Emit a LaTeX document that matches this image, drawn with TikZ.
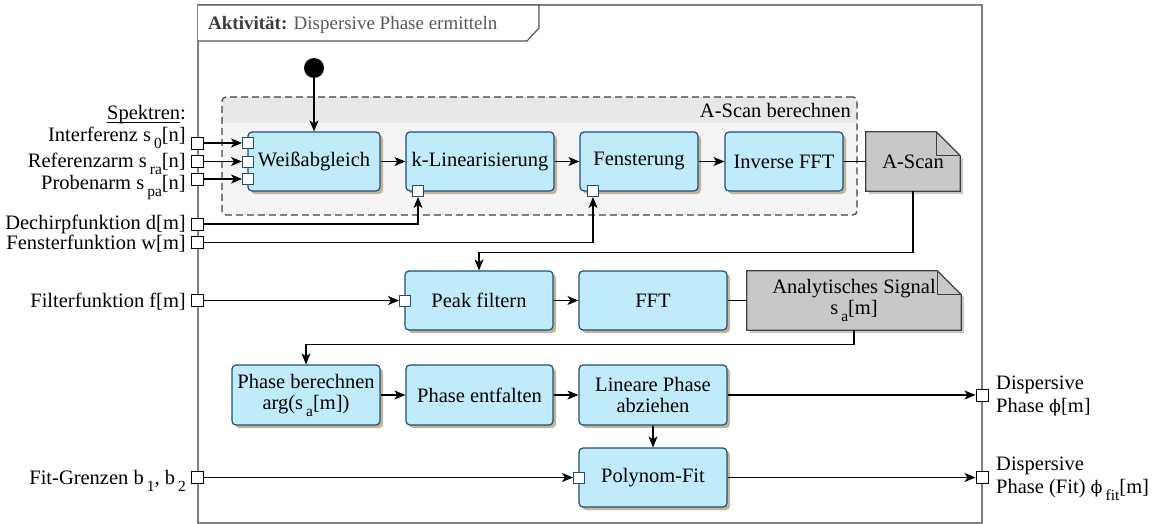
\documentclass[tikz,border=0pt]{standalone}
\usepackage{fontspec}
\setmainfont{Liberation Serif}
\newfontfamily\phifont{DejaVu Serif}
\usetikzlibrary{arrows.meta,shadows,calc}
\definecolor{boxfill}{HTML}{BFEBFB}
\definecolor{boxline}{HTML}{1F4E79}
\definecolor{boxshade}{HTML}{C4B496}
\definecolor{grouphead}{HTML}{E8E8E8}
\definecolor{groupbody}{HTML}{F4F4F4}
\definecolor{docfill}{HTML}{C8C8C8}
\definecolor{docline}{HTML}{404040}
\definecolor{framegray}{HTML}{808080}
\definecolor{titledark}{HTML}{3C3C3C}
\definecolor{titlegray}{HTML}{595959}
\newcommand\txtsize{\fontsize{20.5}{23}\selectfont}
\newcommand\lowidx[1]{\hspace{3pt}\raisebox{-7pt}{\fontsize{15.5}{15.5}\selectfont #1}}
\newcommand\phisym{{\phifont\fontsize{17.5}{17.5}\selectfont ϕ}}
\newcommand\thickul[1]{\setbox0\hbox{#1}\rlap{\rule[-3pt]{\wd0}{1pt}}\box0}
\pgfdeclarelayer{back}
\pgfdeclarelayer{mid}
\pgfsetlayers{back,mid,main}
\tikzset{
  every node/.style={font=\txtsize, inner sep=0pt},
  action/.style={draw=boxline, fill=boxfill, line width=1.2pt, rounded corners=4pt,
    align=center, minimum height=59pt,
    drop shadow={shadow xshift=3pt, shadow yshift=-3pt, fill=boxshade, opacity=1}},
  docnode/.style={minimum height=59pt, align=center},
  docshape/.style={draw=docline, fill=docfill, line width=1.2pt,
    drop shadow={shadow xshift=3pt, shadow yshift=-3pt, fill=black, opacity=0.22}},
  groupbox/.style={draw=docline, fill=groupbody, line width=1.2pt, rounded corners=4pt,
    dash pattern=on 7pt off 4pt,
    path picture={\fill[grouphead] (path picture bounding box.north west)
      rectangle ([yshift=-26pt]path picture bounding box.north east);}},
  inport/.style={draw=boxline, fill=white, line width=1pt, minimum size=11pt},
  portsq/.style={draw=black, fill=white, line width=1pt, minimum size=12pt},
  flow/.style={line width=1.2pt, -{Stealth[length=11pt,width=9pt,inset=3pt]}},
  plain/.style={line width=1.2pt},
  lbl/.style={anchor=base east},
  rlbl/.style={anchor=west, align=left},
}
\begin{document}
\begin{tikzpicture}[x=1pt,y=-1pt]
\useasboundingbox (0,0) rectangle (1153,524);
\begin{pgfonlayer}{back}
  \fill[white] (0,0) rectangle (1153,524);
\end{pgfonlayer}

% activity frame and title tab
\draw[framegray, line width=1.3pt] (198,5) rectangle (982,523);
\draw[docline!90, line width=1.2pt, fill=white] (198,5) -- (539,5) -- (539,28) -- (527,41) -- (198,41);
\node[anchor=base west, font=\fontsize{19}{22}\selectfont] (title) at (208,30)
  {\textcolor{titledark}{\textbf{Aktivität:}} \textcolor{titlegray}{Dispersive Phase ermitteln}};

% group "A-Scan berechnen"
\begin{pgfonlayer}{mid}
  \node[groupbox, minimum width=635pt, minimum height=118pt] (grp) at (539.5,156) {};
\end{pgfonlayer}
\node[anchor=east] (grplbl) at (851,110) {A-Scan berechnen};

% initial node
\node[circle, fill=black, minimum size=20pt] (init) at (314,68) {};

% actions
\node[action, minimum width=132pt] (wa)   at (314,161.5) {Weißabgleich};
\node[action, minimum width=148pt] (kl)   at (480,161.5) {k-Linearisierung};
\node[action, minimum width=118pt] (fe)   at (639,161.5) {Fensterung};
\node[action, minimum width=118pt] (ifft) at (784,161.5) {Inverse FFT};
\node[docnode, minimum width=94pt] (ascan) at (913,161.5) {A-Scan};

\node[action, minimum width=148pt] (pf)   at (479,300.5) {Peak filtern};
\node[action, minimum width=148pt] (fft)  at (653,300.5) {FFT};
\node[docnode, minimum width=214pt] (asig) at (854,300.5)
  {Analytisches Signal\\[-2pt] s\lowidx{a}[m]};

\node[action, minimum width=148pt, minimum height=60pt] (pb) at (306,395)
  {Phase berechnen\\[-2pt] arg(s\lowidx{a}[m])};
\node[action, minimum width=147pt, minimum height=60pt] (pe) at (479.5,395) {Phase entfalten};
\node[action, minimum width=148pt, minimum height=60pt] (lp) at (653,395)
  {Lineare Phase\\[-2pt] abziehen};
\node[action, minimum width=148pt] (pfit) at (653,477.5) {Polynom-Fit};

% object nodes (document shape with folded corner)
\begin{pgfonlayer}{mid}
  \path[docshape] (ascan.north west) -- ([xshift=-24pt]ascan.north east)
    -- ([yshift=-24pt]ascan.north east) -- (ascan.south east) -- (ascan.south west) -- cycle;
  \draw[docline, line width=1.2pt] ([xshift=-24pt]ascan.north east) |- ([yshift=-24pt]ascan.north east);
  \path[docshape] (asig.north west) -- ([xshift=-24pt]asig.north east)
    -- ([yshift=-24pt]asig.north east) -- (asig.south east) -- (asig.south west) -- cycle;
  \draw[docline, line width=1.2pt] ([xshift=-24pt]asig.north east) |- ([yshift=-24pt]asig.north east);
\end{pgfonlayer}

% input pins on the actions
\node[inport] (wa1)   at (248,143)   {};
\node[inport] (wa2)   at (248,161.5) {};
\node[inport] (wa3)   at (248,179)   {};
\node[inport] (klp)   at (418,191)   {};
\node[inport] (fep)   at (593,191)   {};
\node[inport] (pfp)   at (405,300.5) {};
\node[inport] (pfitp) at (579,477.5) {};

% activity parameters
\node[portsq] (in1)  at (197,143)   {};
\node[portsq] (in2)  at (197,161.5) {};
\node[portsq] (in3)  at (197,179)   {};
\node[portsq] (indc) at (197,224)   {};
\node[portsq] (infw) at (197,242.5) {};
\node[portsq] (infl) at (197,300.5) {};
\node[portsq] (infg) at (197,477.5) {};
\node[portsq] (out1) at (982,395)   {};
\node[portsq] (out2) at (982,477.5) {};

% parameter labels
\node[lbl] (lsp)  at (186,120) {\thickul{Spektren}:};
\node[lbl] (lin1) at (186,141) {Interferenz s\lowidx{0}[n]};
\node[lbl] (lin2) at (186,167) {Referenzarm s\lowidx{ra}[n]};
\node[lbl] (lin3) at (186,189) {Probenarm s\lowidx{pa}[n]};
\node[lbl] (ldc)  at (186,229) {Dechirpfunktion d[m]};
\node[lbl] (lfw)  at (186,249) {Fensterfunktion w[m]};
\node[lbl] (lfl)  at (186,307) {Filterfunktion f[m]};
\node[lbl] (lfg)  at (186,484) {Fit-Grenzen b\lowidx{1}, b\lowidx{2}};
\node[rlbl] (lo1) at (996,396) {Dispersive\\ Phase \phisym[m]};
\node[rlbl] (lo2) at (996,479) {Dispersive\\ Phase (Fit) \phisym\lowidx{fit}[m]};

% control and object flows
\draw[flow] (init) -- (wa);
\draw[flow] (in1) -- (wa1);
\draw[flow] (in2) -- (wa2);
\draw[flow] (in3) -- (wa3);
\draw[flow] (wa) -- (kl);
\draw[flow] (kl) -- (fe);
\draw[flow] (fe) -- (ifft);
\draw[plain] (ifft) -- (ascan);
\draw[flow] (indc) -| (klp);
\draw[flow] (infw) -| (fep);
\draw[flow] (ascan.south) -- ++(0,61) -| (pf);
\draw[flow] (infl) -- (pfp);
\draw[flow] (pf) -- (fft);
\draw[plain] (fft) -- (asig);
\draw[flow] (asig.south) -- ++(0,14) -| (pb);
\draw[flow] (pb) -- (pe);
\draw[flow] (pe) -- (lp);
\draw[flow] (lp) -- (out1);
\draw[flow] (lp) -- (pfit);
\draw[flow] (infg) -- (pfitp);
\draw[flow] (pfit) -- (out2);
\end{tikzpicture}
\end{document}
